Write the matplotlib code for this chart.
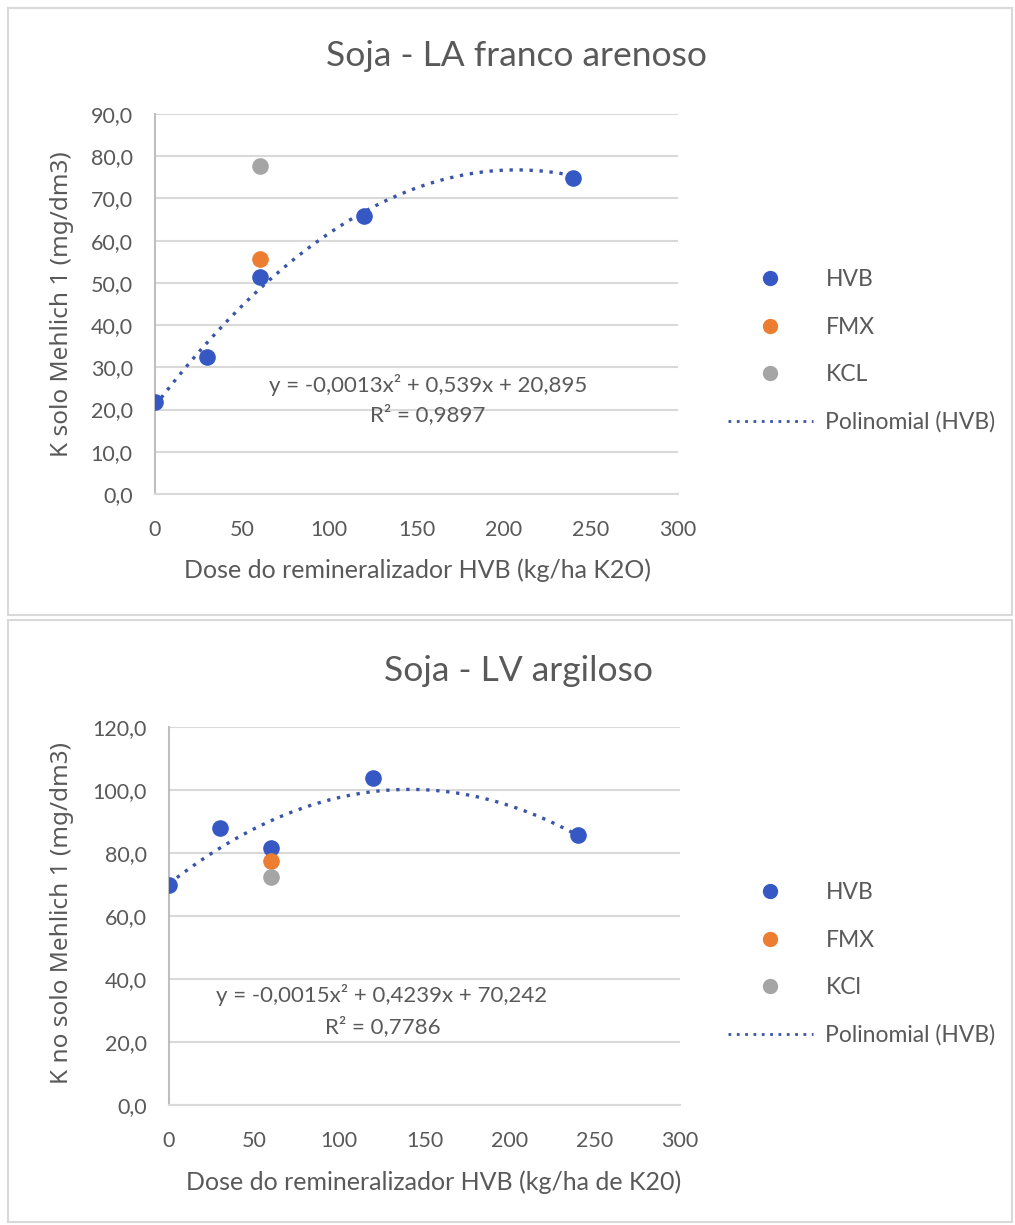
import matplotlib
matplotlib.use("Agg")
import matplotlib.pyplot as plt
import numpy as np
from matplotlib.lines import Line2D
from matplotlib.patches import Rectangle

W, H = 1015, 1225

# --- top chart: Soja - LA franco arenoso ---
top_hvb_x = [0, 30, 60, 120, 240]
top_hvb_y = [21.8, 32.5, 51.3, 65.8, 74.8]
top_fmx_x = [60]
top_fmx_y = [55.6]
top_kcl_x = [60]
top_kcl_y = [77.7]
top_coef = [-0.0013, 0.539, 20.895]
top_yticks = [0, 10, 20, 30, 40, 50, 60, 70, 80, 90]

# --- bottom chart: Soja - LV argiloso ---
bot_hvb_x = [0, 30, 60, 120, 240]
bot_hvb_y = [70.0, 87.8, 81.6, 103.8, 85.7]
bot_fmx_x = [60]
bot_fmx_y = [77.6]
bot_kcl_x = [60]
bot_kcl_y = [72.3]
bot_coef = [-0.0015, 0.4239, 70.242]
bot_yticks = [0, 20, 40, 60, 80, 100, 120]

xticks = [0, 50, 100, 150, 200, 250, 300]

BLUE = "#3558C4"
TREND = "#3A55A8"
ORANGE = "#ED7D31"
GRAY = "#A5A5A5"
TXT = "#595959"
GRID = "#D9D9D9"
FONT = "Lato"


def px(x, y):
    return x / W, 1 - y / H


def axes_rect(left, right, top, bottom):
    return [left / W, 1 - bottom / H, (right - left) / W, (bottom - top) / H]


fig = plt.figure(figsize=(W / 100, H / 100), dpi=100)

# panel borders
for y0, y1 in [(8, 615), (620, 1222)]:
    fig.patches.append(Rectangle(px(8, y1), 1004 / W, (y1 - y0) / H,
                                 transform=fig.transFigure, fill=False,
                                 edgecolor=GRID, linewidth=1.5))


def panel(rect, hx, hy, fx, fy, kx, ky, coef, yticks, ymax, title, title_xy,
          ylabel, ylabel_xy, xlabel, xlabel_xy, eq, r2, eq_xy, r2_xy,
          kcl_name, leg_xy):
    ax = fig.add_axes(rect)
    ax.set_xlim(0, 300)
    ax.set_ylim(0, ymax)
    ax.set_yticks(yticks)
    ax.set_yticklabels([f"{v:.1f}".replace(".", ",") for v in yticks],
                       family=FONT, fontsize=15.5, color=TXT)
    ax.set_xticks(xticks)
    ax.set_xticklabels([str(v) for v in xticks], family=FONT, fontsize=15.5,
                       color=TXT)
    ax.tick_params(length=0, axis="y", pad=16)
    ax.tick_params(length=0, axis="x", pad=19)
    ax.grid(axis="y", color=GRID, linewidth=1.5)
    ax.set_axisbelow(True)
    for s in ["top", "right"]:
        ax.spines[s].set_visible(False)
    ax.spines["left"].set_color("#BFBFBF")
    ax.spines["bottom"].set_color(GRID)
    ax.spines["left"].set_linewidth(1.5)
    ax.spines["bottom"].set_linewidth(1.5)

    xs = np.linspace(0, max(hx), 200)
    ax.plot(xs, np.polyval(coef, xs), color=TREND, linestyle=(0, (1, 2.0)),
            linewidth=2.4, zorder=2)
    ax.scatter(hx, hy, s=120, color=BLUE, zorder=3)
    ax.scatter(fx, fy, s=120, color=ORANGE, zorder=3)
    ax.scatter(kx, ky, s=120, color=GRAY, zorder=3)

    fig.text(*px(*title_xy), title, family=FONT, fontsize=25.5, color=TXT,
             ha="center", va="center")
    fig.text(*px(*ylabel_xy), ylabel, family="Noto Sans", fontsize=17.5,
             color=TXT, ha="center", va="center", rotation=90)
    fig.text(*px(*xlabel_xy), xlabel, family=FONT, fontsize=18, color=TXT,
             ha="center", va="center")
    fig.text(*px(*eq_xy), eq, family=FONT, fontsize=16, color=TXT,
             ha="center", va="center")
    fig.text(*px(*r2_xy), r2, family=FONT, fontsize=16, color=TXT,
             ha="center", va="center")

    handles = [
        Line2D([], [], linestyle="none", marker="o", markersize=10, color=BLUE),
        Line2D([], [], linestyle="none", marker="o", markersize=10, color=ORANGE),
        Line2D([], [], linestyle="none", marker="o", markersize=10, color=GRAY),
        Line2D([], [], color=TREND, linestyle=(0, (1, 2.0)), linewidth=2),
    ]
    labels = ["HVB", "FMX", kcl_name, "Polinomial (HVB)"]
    leg = fig.legend(handles, labels, loc="center left",
                     bbox_to_anchor=px(*leg_xy), frameon=False,
                     prop={"family": FONT, "size": 16.5}, labelspacing=1.15,
                     handlelength=3.7, handletextpad=0.55, borderpad=0,
                     borderaxespad=0)
    for t in leg.get_texts():
        t.set_color(TXT)
    return ax


panel(axes_rect(155, 678, 114, 494), top_hvb_x, top_hvb_y, top_fmx_x,
      top_fmx_y, top_kcl_x, top_kcl_y, top_coef, top_yticks, 90,
      "Soja - LA franco arenoso", (517, 56),
      "K solo Mehlich 1 (mg/dm3)", (62, 304),
      "Dose do remineralizador HVB (kg/ha K2O)", (417, 570),
      "y = -0,0013x² + 0,539x + 20,895", "R² = 0,9897", (428, 385), (428, 415),
      "KCL", (728, 351))

panel(axes_rect(169, 680, 727, 1105), bot_hvb_x, bot_hvb_y, bot_fmx_x,
      bot_fmx_y, bot_kcl_x, bot_kcl_y, bot_coef, bot_yticks, 120,
      "Soja - LV argiloso", (518, 671),
      "K no solo Mehlich 1 (mg/dm3)", (62, 913),
      "Dose do remineralizador HVB (kg/ha de K20)", (434, 1182),
      "y = -0,0015x² + 0,4239x + 70,242", "R² = 0,7786", (382, 995), (383, 1027),
      "KCl", (728, 964))

fig.savefig("out.png", dpi=100)
